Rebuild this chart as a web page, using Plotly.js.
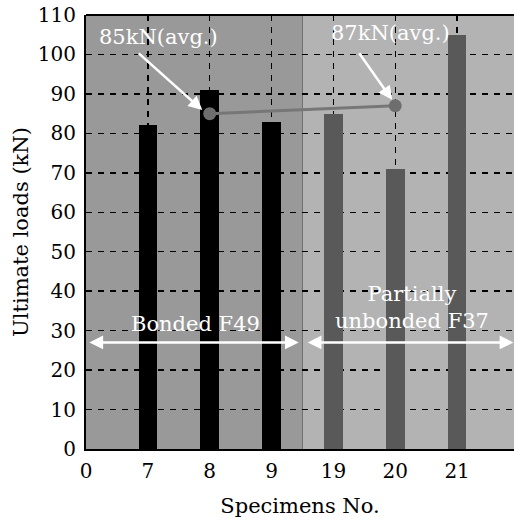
<!DOCTYPE html>
<html>
<head>
<meta charset="utf-8">
<script src="https://cdn.plot.ly/plotly-3.0.1.min.js"></script>
<style>html,body{margin:0;padding:0;background:#fff;}#chart{width:514px;height:525px;}</style>
</head>
<body>
<div id="chart"></div>
<script>
// Data
const tickLabels = ['0', '7', '8', '9', '19', '20', '21'];
const bondedSpecimens = ['7', '8', '9'];
const bondedLoads = [82, 91, 83];
const unbondedSpecimens = ['19', '20', '21'];
const unbondedLoads = [85, 71, 105];
const avgSpecimens = ['8', '20'];
const avgLoads = [85, 87];
const avgLabels = ['85kN(avg.)', '87kN(avg.)'];
const groupLabels = ['Bonded F49', 'Partially<br>unbonded F37'];

const pos = s => tickLabels.indexOf(s);
const FONT = 'DejaVu Serif';

const traces = [
  {type: 'bar', x: bondedSpecimens.map(pos), y: bondedLoads, width: 0.3,
   marker: {color: '#000000', line: {width: 0}}, showlegend: false, hoverinfo: 'skip'},
  {type: 'bar', x: unbondedSpecimens.map(pos), y: unbondedLoads, width: 0.3,
   marker: {color: '#595959', line: {width: 0}}, showlegend: false, hoverinfo: 'skip'},
  {type: 'scatter', mode: 'lines+markers', x: avgSpecimens.map(pos), y: avgLoads,
   line: {color: '#777777', width: 3}, marker: {color: '#6e6e6e', size: 13},
   showlegend: false, hoverinfo: 'skip'}
];

const annotations = [
  {x: 1.18, y: 104.5, xref: 'x', yref: 'y', text: avgLabels[0], showarrow: false,
   font: {family: FONT, size: 21, color: '#ffffff'}},
  {x: 4.93, y: 105.5, xref: 'x', yref: 'y', text: avgLabels[1], showarrow: false,
   font: {family: FONT, size: 21, color: '#ffffff'}},
  {x: pos(avgSpecimens[0]) - 0.12, y: avgLoads[0] + 0.9, xref: 'x', yref: 'y', text: '', showarrow: true,
   ax: -65, ay: -58, arrowhead: 2, arrowsize: 1.1, arrowwidth: 2.5, arrowcolor: '#ffffff'},
  {x: pos(avgSpecimens[1]) - 0.05, y: avgLoads[1] + 1.5, xref: 'x', yref: 'y', text: '', showarrow: true,
   ax: -34, ay: -48, arrowhead: 2, arrowsize: 1.1, arrowwidth: 2.5, arrowcolor: '#ffffff'},
  {x: 1.77, y: 31.8, xref: 'x', yref: 'y', text: groupLabels[0], showarrow: false,
   font: {family: FONT, size: 21, color: '#ffffff'}},
  {x: 5.27, y: 35.8, xref: 'x', yref: 'y', text: groupLabels[1], showarrow: false,
   font: {family: FONT, size: 21, color: '#ffffff'}},
  {x: 3.44, y: 27, ax: 0.03, ay: 27, xref: 'x', yref: 'y', axref: 'x', ayref: 'y', text: '',
   showarrow: true, arrowside: 'end+start', arrowhead: 2, arrowsize: 1.1, arrowwidth: 2.5, arrowcolor: '#ffffff'},
  {x: 6.91, y: 27, ax: 3.56, ay: 27, xref: 'x', yref: 'y', axref: 'x', ayref: 'y', text: '',
   showarrow: true, arrowside: 'end+start', arrowhead: 2, arrowsize: 1.1, arrowwidth: 2.5, arrowcolor: '#ffffff'}
];

const layout = {
  width: 514, height: 525,
  margin: {l: 86, r: 0, t: 15, b: 76, pad: 0},
  paper_bgcolor: '#ffffff',
  plot_bgcolor: '#b3b3b3',
  font: {family: FONT, size: 20, color: '#000000'},
  showlegend: false,
  xaxis: {
    range: [0, 6.92], tickmode: 'array', tickvals: tickLabels.map((t, i) => i), ticktext: tickLabels,
    showgrid: true, gridcolor: '#000000', gridwidth: 1.5, griddash: '6px,6px',
    zeroline: false, showline: true, linecolor: '#000000', linewidth: 2,
    ticks: 'outside', ticklen: 3, tickcolor: 'rgba(0,0,0,0)', tickfont: {family: FONT, size: 20, color: '#000'},
    title: {text: 'Specimens No.', font: {family: FONT, size: 21, color: '#000'}, standoff: 16},
    fixedrange: true
  },
  yaxis: {
    range: [0, 110], dtick: 10, tick0: 0,
    showgrid: true, gridcolor: '#000000', gridwidth: 1.5, griddash: '6px,6px',
    zeroline: false, showline: true, linecolor: '#000000', linewidth: 2, mirror: false,
    ticks: 'outside', ticklen: 4, tickcolor: 'rgba(0,0,0,0)',
    tickfont: {family: FONT, size: 20, color: '#000'},
    title: {text: 'Ultimate loads (kN)', font: {family: FONT, size: 21, color: '#000'}, standoff: 3},
    fixedrange: true
  },
  shapes: [
    {type: 'rect', xref: 'x', yref: 'paper', x0: 0, x1: 3.5, y0: 0, y1: 1,
     fillcolor: '#999999', line: {width: 0}, layer: 'below'},
    {type: 'line', xref: 'x', yref: 'paper', x0: 3.5, x1: 3.5, y0: 0, y1: 1,
     line: {color: '#707070', width: 1}, layer: 'below'},
    {type: 'line', xref: 'paper', yref: 'paper', x0: 0, x1: 1, y0: 1, y1: 1,
     line: {color: '#000000', width: 2}, layer: 'above'}
  ],
  annotations: annotations,
  bargap: 0
};

Plotly.newPlot('chart', traces, layout, {displayModeBar: false, staticPlot: true});
</script>
</body>
</html>
